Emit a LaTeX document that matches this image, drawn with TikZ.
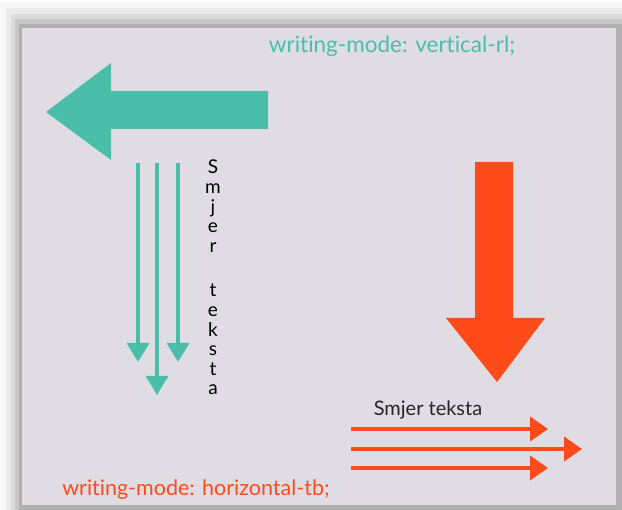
\documentclass[tikz,border=0pt]{standalone}
\usepackage{fontspec}
\setmainfont{Lato}[Ligatures=NoCommon]
\usetikzlibrary{arrows.meta}
\definecolor{tirkiz}{HTML}{4BBEAA}
\definecolor{narancasta}{HTML}{FF4A1A}
\definecolor{podloga}{HTML}{DFDCE3}
\tikzset{
  tanka/.style={line width=3.5pt,tirkiz,-{Triangle[length=19pt,width=22pt]}},
  vodoravna/.style={line width=4pt,narancasta,-{Triangle[length=18pt,width=24pt]}}
}
\begin{document}
\begin{tikzpicture}[x=1pt,y=-1pt]
\useasboundingbox (0,0) rectangle (622,510);
% sjena i podloga
\fill[black!3] (0,2) rectangle (622,510);
\fill[black!8] (6,8) rectangle (622,510);
\fill[black!14] (11,14) rectangle (622,510);
\fill[black!22] (15,19) rectangle (622,510);
\fill[black!31] (19,24) rectangle (622,510);
\fill[podloga] (22,28) rectangle (616,505);

\node[text=tirkiz,font=\fontsize{22.5}{26}\selectfont] (V) at (392,46) {writing-mode: vertical-rl;};
\node[text=narancasta,font=\fontsize{21.5}{26}\selectfont] (H) at (196,490) {writing-mode: horizontal-tb;};

% velike strelice
\fill[tirkiz] (46,112) -- (111,63) -- (111,91) -- (268,91) -- (268,129) -- (111,129) -- (111,160) -- cycle;
\fill[narancasta] (475,162) -- (513,162) -- (513,318) -- (545,318) -- (497,382) -- (446,318) -- (475,318) -- cycle;

% okomiti tekst
\node[anchor=north,align=center,inner sep=0pt,font=\fontsize{19}{19.6}\selectfont] (S) at (213,160)
  {S\\m\\j\\e\\r\\[25pt]t\\e\\k\\s\\t\\a};

\coordinate (A1) at (138,163);
\coordinate (A2) at (138,362);
\coordinate (B1) at (157,163);
\coordinate (B2) at (157,395);
\coordinate (C1) at (178,163);
\coordinate (C2) at (178,362);
\draw[tanka] (A1) -- (A2);
\draw[tanka] (B1) -- (B2);
\draw[tanka] (C1) -- (C2);

% vodoravni tekst
\node[text=black!85,font=\fontsize{20}{22}\selectfont] (T) at (428,410) {Smjer teksta};

\coordinate (D1) at (351,429);
\coordinate (D2) at (548,429);
\coordinate (E1) at (351,449);
\coordinate (E2) at (582,449);
\coordinate (F1) at (351,468);
\coordinate (F2) at (548,468);
\draw[vodoravna] (D1) -- (D2);
\draw[vodoravna] (E1) -- (E2);
\draw[vodoravna] (F1) -- (F2);
\end{tikzpicture}
\end{document}
